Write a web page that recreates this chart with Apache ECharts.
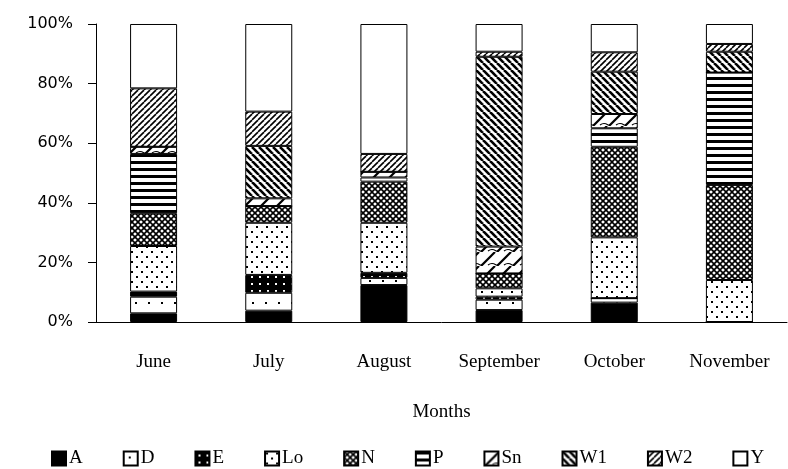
<!DOCTYPE html>
<html>
<head>
<meta charset="utf-8">
<script src="https://cdn.jsdelivr.net/npm/echarts@6/dist/echarts.min.js"></script>
<style>
  html, body { margin: 0; padding: 0; background: #fff; }
  #main { width: 788px; height: 469px; }
</style>
</head>
<body>
<div id="main"></div>
<script>
// months on the x axis
var months = ['June', 'July', 'August', 'September', 'October', 'November'];
var yTicks = [0, 20, 40, 60, 80, 100];

// share of each class per month (%), stacked bottom to top
var valsA  = [2.9, 3.8, 12.4, 4.0, 6.5, 0];
var valsD  = [5.6, 6.0, 2.4, 3.5, 1.5, 0];
var valsE  = [1.7, 6.0, 1.7, 1.0, 0, 0];
var valsLo = [15.3, 17.5, 16.8, 2.8, 20.4, 14.1];
var valsN  = [11.0, 5.6, 13.8, 5.0, 30.4, 31.9];
var valsP  = [19.9, 0, 1.4, 0, 6.2, 37.7];
var valsSn = [2.4, 2.6, 1.9, 9.0, 4.8, 0];
var valsW1 = [0, 17.6, 0, 63.7, 14.2, 7.0];
var valsW2 = [19.6, 11.5, 6.0, 1.7, 6.5, 2.6];
var valsY  = [21.6, 29.4, 43.6, 9.3, 9.5, 6.7];

var names = ['A', 'D', 'E', 'Lo', 'N', 'P', 'Sn', 'W1', 'W2', 'Y'];
var allVals = [valsA, valsD, valsE, valsLo, valsN, valsP, valsSn, valsW1, valsW2, valsY];

// black & white fill patterns
function tile(w, h, draw) {
  var c = document.createElement('canvas');
  c.width = w; c.height = h;
  var g = c.getContext('2d');
  draw(g, w, h);
  return { image: c, repeat: 'repeat' };
}
function dots(g, pts, s, col) {
  g.fillStyle = col;
  pts.forEach(function (p) { g.fillRect(p[0], p[1], s, s); });
}
function diag(g, s, lw, back) {
  g.strokeStyle = '#000';
  g.lineWidth = lw;
  for (var k = -1; k <= 1; k++) {
    g.beginPath();
    if (back) { g.moveTo(k * s, 0); g.lineTo(k * s + s, s); }
    else { g.moveTo(k * s, s); g.lineTo(k * s + s, 0); }
    g.stroke();
  }
}

var patterns = {
  A: '#000',
  D: tile(13, 11, function (g, w, h) {
    g.fillStyle = '#fff'; g.fillRect(0, 0, w, h);
    dots(g, [[5, 5]], 2, '#000');
  }),
  E: tile(8, 7, function (g, w, h) {
    g.fillStyle = '#000'; g.fillRect(0, 0, w, h);
    dots(g, [[3, 3]], 2, '#fff');
  }),
  Lo: tile(10, 10, function (g, w, h) {
    g.fillStyle = '#fff'; g.fillRect(0, 0, w, h);
    dots(g, [[1, 1], [6, 6]], 2, '#000');
  }),
  N: tile(6, 6, function (g, w, h) {
    g.fillStyle = '#fff'; g.fillRect(0, 0, w, h);
    diag(g, 6, 1.6, true);
    diag(g, 6, 1.6, false);
    dots(g, [[2, 2]], 1, '#000');
  }),
  P: tile(8, 7, function (g, w, h) {
    g.fillStyle = '#fff'; g.fillRect(0, 0, w, h);
    g.fillStyle = '#000'; g.fillRect(0, 0, w, 3);
  }),
  Sn: tile(16, 14, function (g, w, h) {
    g.fillStyle = '#fff'; g.fillRect(0, 0, w, h);
    g.strokeStyle = '#000'; g.lineWidth = 2.2;
    g.beginPath(); g.moveTo(1, 14); g.lineTo(15, 0); g.stroke();
    g.lineWidth = 1.2;
    g.beginPath(); g.moveTo(8, 13); g.quadraticCurveTo(12, 10, 16, 13); g.stroke();
    g.beginPath(); g.moveTo(0, 13); g.lineTo(2, 13); g.stroke();
  }),
  W1: tile(7, 7, function (g) {
    g.fillStyle = '#fff'; g.fillRect(0, 0, 7, 7);
    diag(g, 7, 2.6, true);
  }),
  W2: tile(6, 6, function (g) {
    g.fillStyle = '#fff'; g.fillRect(0, 0, 6, 6);
    diag(g, 6, 1.6, false);
  }),
  Y: '#fff'
};

var series = names.map(function (n, i) {
  return {
    name: n,
    type: 'bar',
    stack: 'all',
    barWidth: 47,
    data: allVals[i],
    itemStyle: { color: patterns[n], borderColor: '#000', borderWidth: 1 },
    emphasis: { disabled: true }
  };
});

var chart = echarts.init(document.getElementById('main'), null, { renderer: 'canvas' });
chart.setOption({
  animation: false,
  backgroundColor: '#fff',
  grid: { left: 96, right: 1, top: 24, bottom: 147, containLabel: false },
  legend: {
    data: names,
    icon: 'rect',
    left: 46,
    top: 444,
    itemWidth: 14,
    itemHeight: 14,
    itemGap: 40,
    textStyle: { fontFamily: 'Liberation Serif', fontSize: 19, color: '#000', padding: [0, 0, 0, -2] }
  },
  xAxis: {
    type: 'category',
    data: months,
    name: 'Months',
    nameLocation: 'middle',
    nameGap: 81,
    nameTextStyle: { fontFamily: 'Liberation Serif', fontSize: 19, color: '#000' },
    axisLine: { lineStyle: { color: '#000', width: 1 } },
    axisTick: { length: 9, lineStyle: { color: '#000' } },
    axisLabel: { margin: 31, fontFamily: 'Liberation Serif', fontSize: 19, color: '#000' }
  },
  yAxis: {
    type: 'value',
    min: yTicks[0],
    max: yTicks[yTicks.length - 1],
    interval: 20,
    splitLine: { show: false },
    axisLine: { show: true, lineStyle: { color: '#000', width: 1 } },
    axisTick: { show: true, length: 8, lineStyle: { color: '#000' } },
    axisLabel: { margin: 23, fontFamily: 'DejaVu Sans', fontSize: 16, color: '#000', formatter: '{value}%' }
  },
  series: series
});
</script>
</body>
</html>
